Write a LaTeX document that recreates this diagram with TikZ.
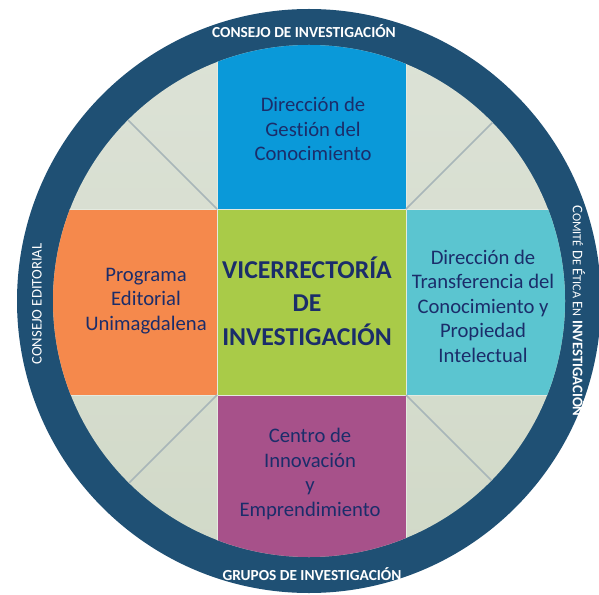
\documentclass[tikz,border=0pt]{standalone}
\usepackage{fontspec}
\setmainfont[Ligatures=NoCommon]{Carlito}
\definecolor{ring}{HTML}{1F5074}
\definecolor{paleA}{HTML}{DCE2D6}
\definecolor{paleB}{HTML}{D1D9C8}
\definecolor{skyblue}{HTML}{0A99D9}
\definecolor{coral}{HTML}{F5894C}
\definecolor{lime}{HTML}{A9CB48}
\definecolor{aqua}{HTML}{5BC5D0}
\definecolor{plum}{HTML}{A7518A}
\definecolor{ink}{HTML}{1B2D6A}
\definecolor{spoke}{HTML}{A8B6B9}
\definecolor{seam}{HTML}{E4EAE0}
\newcommand\smallcap[1]{{\fontsize{9.2}{10}\selectfont #1}}

\begin{document}
\begin{tikzpicture}[x=.75pt,y=-.75pt,
  every node/.style={text=ink,align=center,font=\fontsize{15.5}{18.4}\selectfont},
  ringlabel/.style={text=white,font=\bfseries\fontsize{11.5}{13}\selectfont}]
\useasboundingbox (0,0) rectangle (599,595);
% outer ring and pale disc
\fill[ring] (309,301) circle[radius=219pt];
\shade[top color=paleA,bottom color=paleB] (309,301) circle[radius=192pt];
\begin{scope}
\clip (309,301) circle[radius=192pt];
% the five blocks
\fill[skyblue] (217,0) rectangle (406,209);
\fill[coral] (0,209) rectangle (217,395);
\fill[lime] (217,209) rectangle (406,395);
\fill[aqua] (406,209) rectangle (599,395);
\fill[plum] (217,395) rectangle (406,595);
\draw[seam,line width=.6pt] (217,0) -- (217,595);
\draw[seam,line width=.6pt] (406,0) -- (406,595);
\draw[seam,line width=.6pt] (0,209) -- (599,209);
\draw[seam,line width=.6pt] (0,395) -- (599,395);
% spokes in the pale corners
\draw[spoke,line width=1.1pt] (217,209) -- ++(-200,-200);
\draw[spoke,line width=1.1pt] (406,209) -- ++(200,-200);
\draw[spoke,line width=1.1pt] (217,395) -- ++(-200,200);
\draw[spoke,line width=1.1pt] (406,395) -- ++(200,200);
\end{scope}
% centre
\node (vice) [font=\bfseries\fontsize{19.3}{25}\selectfont] at (307,301)
  {VICERRECTORÍA\\DE\\INVESTIGACIÓN};
% blocks around it
\node (gestion) at (313,129) {Dirección de\\Gestión del\\Conocimiento};
\node (editorial) at (146,301) {Programa\\Editorial\\Unimagdalena};
\node (transfer) at (483,306)
  {Dirección de\\Transferencia del\\Conocimiento y\\Propiedad\\Intelectual};
\node (centro) at (310,474) {Centro de\\Innovación\\y\\Emprendimiento};
% labels on the ring
\node (consejo) [ringlabel] at (304,31) {CONSEJO DE INVESTIGACIÓN};
\node (grupos) [ringlabel] at (312,574) {GRUPOS DE INVESTIGACIÓN};
\node (ceditorial) [ringlabel,font=\fontsize{11}{13}\selectfont,rotate=90] at (37,304)
  {CONSEJO EDITORIAL};
\node (comite) [ringlabel,font=\fontsize{11}{13}\selectfont,rotate=-90] at (579,311)
  {C\smallcap{OMITÉ} D\smallcap{E} É\smallcap{TICA} E\smallcap{N} \textbf{INVESTIGACIÓN}};
\end{tikzpicture}
\end{document}
